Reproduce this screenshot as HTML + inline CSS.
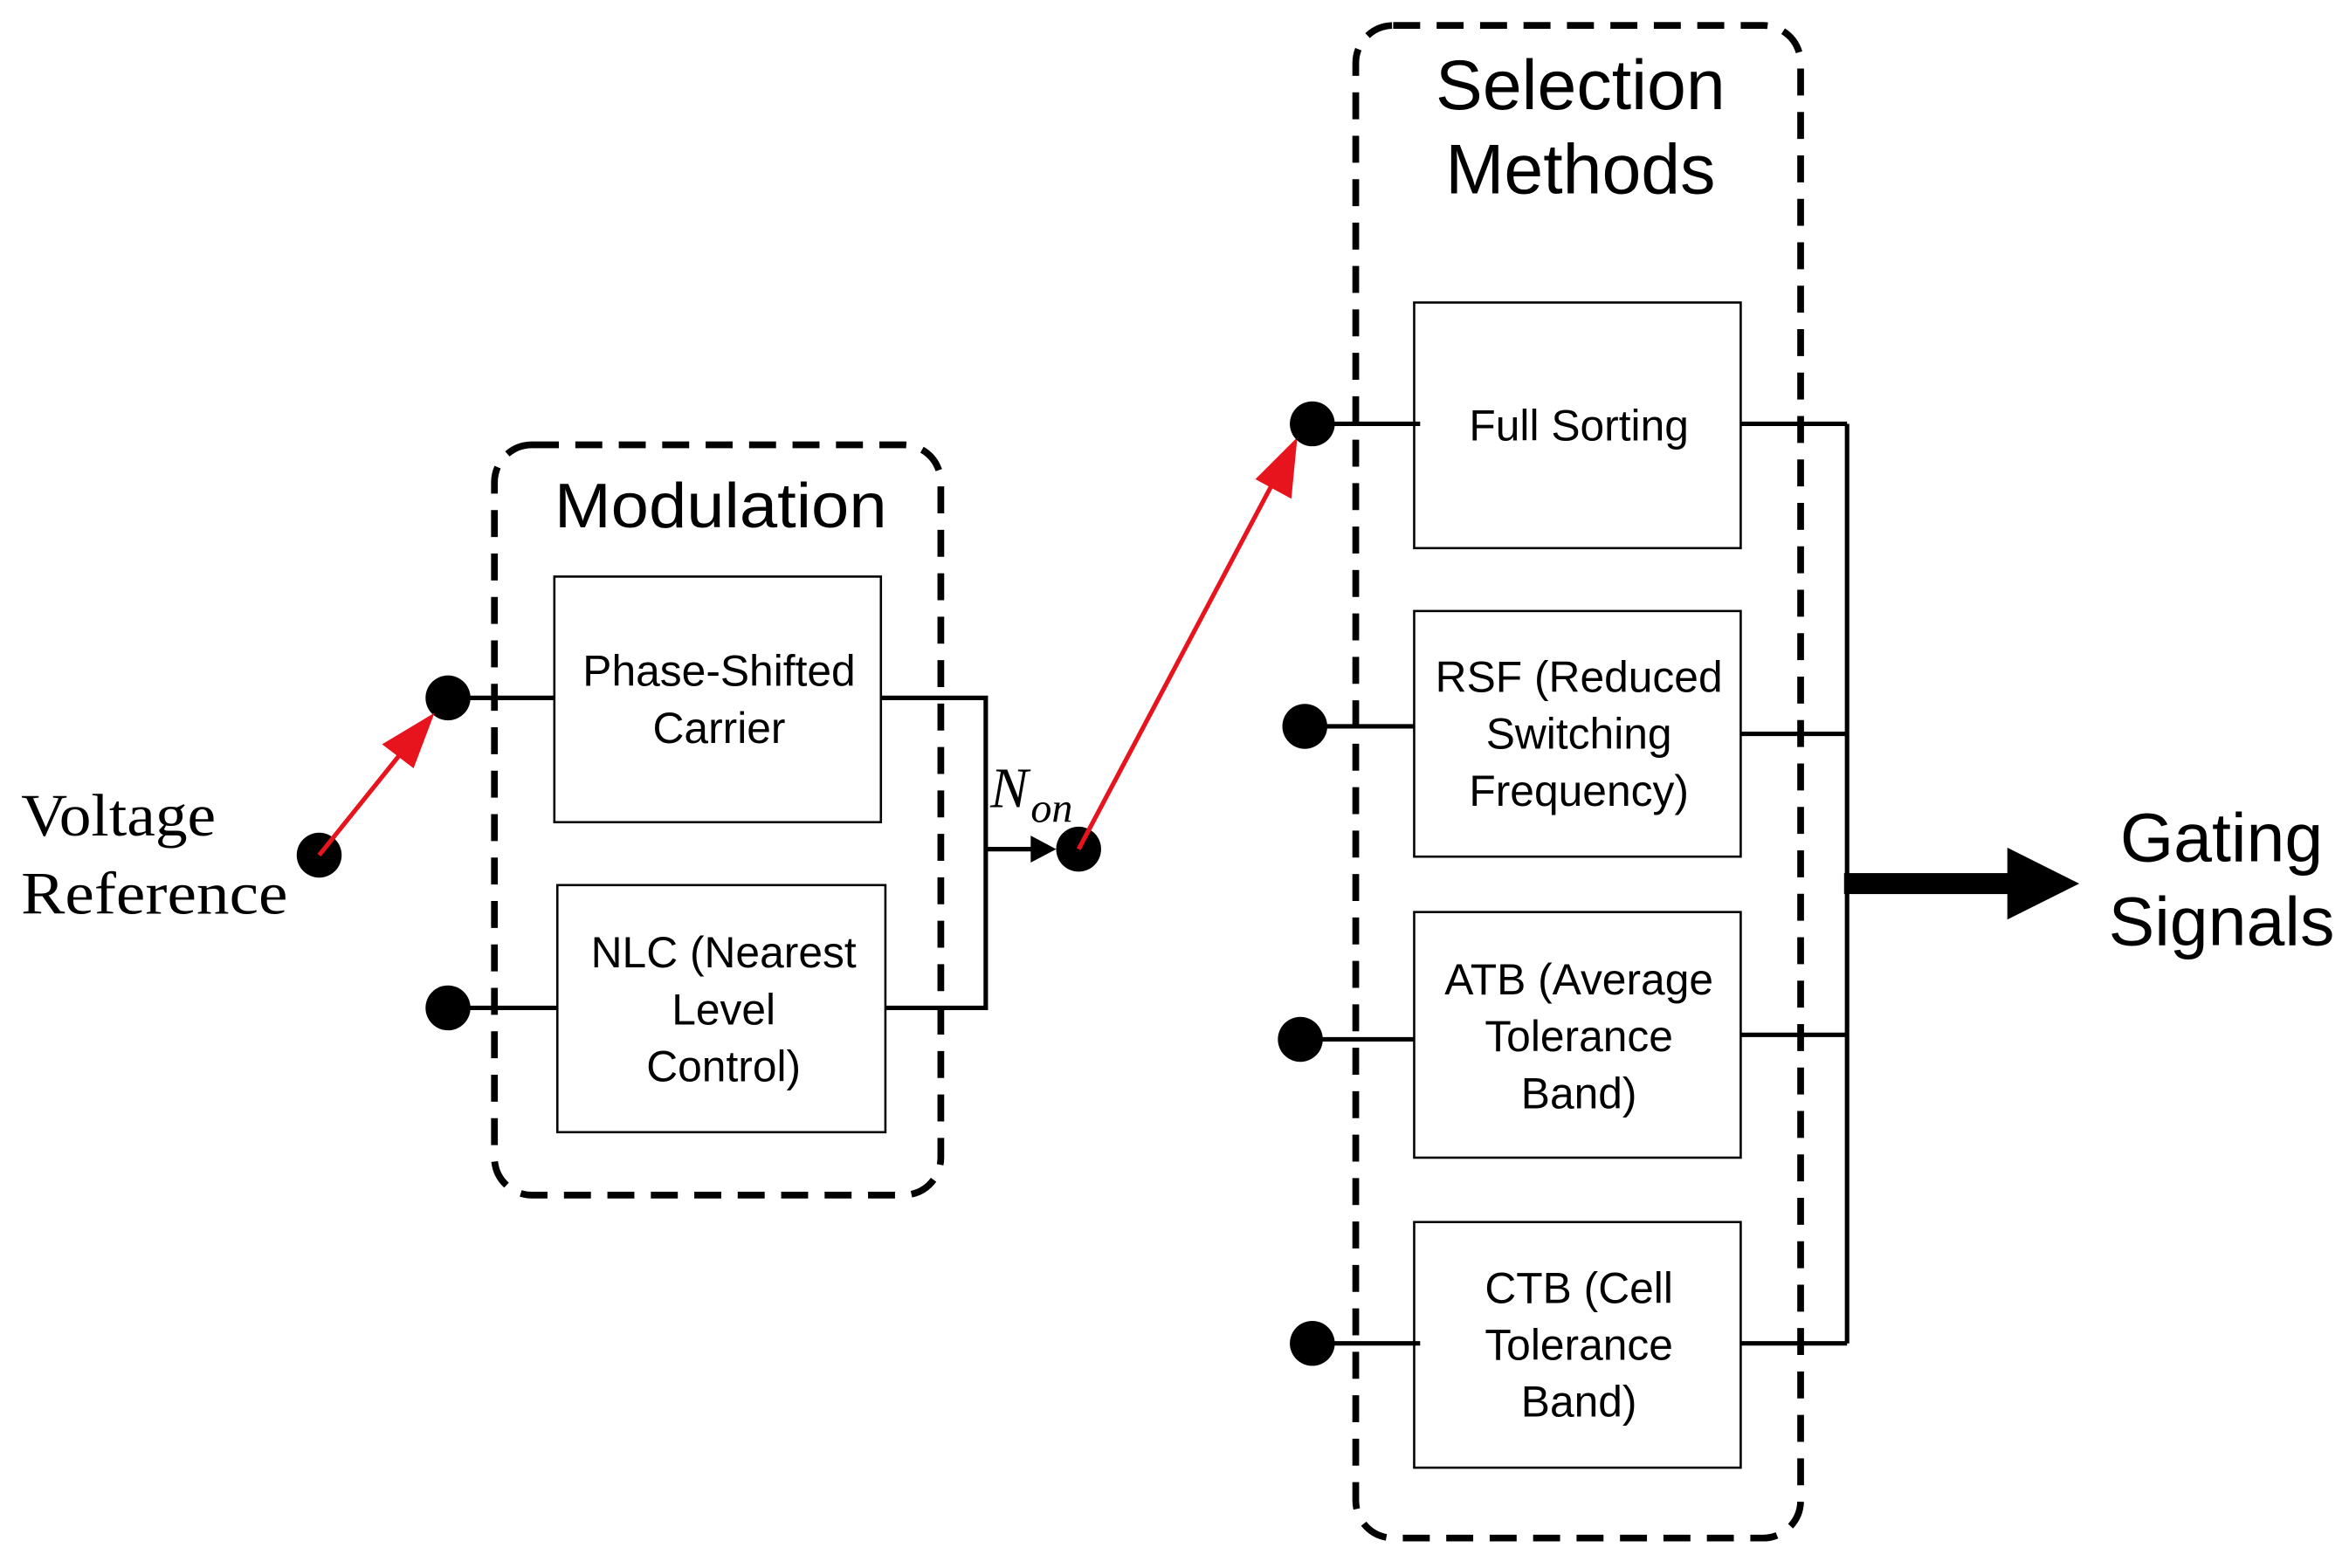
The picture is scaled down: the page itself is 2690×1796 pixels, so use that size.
<!DOCTYPE html>
<html><head><meta charset="utf-8"><style>
html,body{margin:0;padding:0;background:#fff;}
svg{display:block;}
.s{font-family:"Liberation Sans","DejaVu Sans",sans-serif;fill:#000;text-anchor:middle;}
.r{font-family:"Liberation Serif",serif;fill:#000;}
</style></head><body>
<svg width="2690" height="1796" viewBox="0 0 1568 1047" xmlns="http://www.w3.org/2000/svg">
<rect width="1568" height="1047" fill="#fff"/>
<rect x="330" y="297" width="298" height="501" rx="25" fill="none" stroke="#000" stroke-width="4.5" stroke-dasharray="18,11"/>
<text class="s" x="481" y="352" font-size="42" textLength="222" lengthAdjust="spacingAndGlyphs">Modulation</text>
<rect x="370" y="385" width="218" height="164" fill="none" stroke="#000" stroke-width="1.5"/>
<text class="s" x="480" y="458" font-size="29">Phase-Shifted</text>
<text class="s" x="480" y="496" font-size="29">Carrier</text>
<rect x="372" y="591" width="219" height="165" fill="none" stroke="#000" stroke-width="1.5"/>
<text class="s" x="483" y="646" font-size="29">NLC (Nearest</text>
<text class="s" x="483" y="684" font-size="29">Level</text>
<text class="s" x="483" y="722" font-size="29">Control)</text>
<g stroke="#000" stroke-width="3" fill="none">
<line x1="299" y1="466" x2="370" y2="466"/>
<line x1="299" y1="673" x2="372" y2="673"/>
<polyline points="588,466 658,466 658,673 591,673"/>
<line x1="658" y1="567" x2="690" y2="567"/>
</g>
<path d="M705,567 L688,558 L688,576 z" fill="#000"/>
<circle cx="299" cy="466" r="15" fill="#000"/>
<circle cx="299" cy="673" r="15" fill="#000"/>
<circle cx="213" cy="571" r="15" fill="#000"/>
<circle cx="720" cy="567" r="15" fill="#000"/>
<text class="r" x="661" y="539" font-size="38" font-style="italic">N</text>
<text class="r" x="688" y="549" font-size="28" font-style="italic">on</text>
<text class="r" x="14" y="558" font-size="40" textLength="130" lengthAdjust="spacingAndGlyphs">Voltage</text>
<text class="r" x="14" y="610" font-size="40" textLength="178" lengthAdjust="spacingAndGlyphs">Reference</text>
<line x1="213" y1="571" x2="266" y2="505" stroke="#e8141d" stroke-width="3"/>
<path d="M290,476 L276,513 L255,497 z" fill="#e8141d"/>
<line x1="720" y1="567" x2="851" y2="320" stroke="#e8141d" stroke-width="3"/>
<path d="M866,292 L862,333 L838,320 z" fill="#e8141d"/>
<rect x="905" y="17" width="297" height="1010" rx="25" fill="none" stroke="#000" stroke-width="4.5" stroke-dasharray="18,11"/>
<text class="s" x="1055" y="73" font-size="47">Selection</text>
<text class="s" x="1055" y="129" font-size="47">Methods</text>
<g fill="none" stroke="#000" stroke-width="1.5">
<rect x="944" y="202" width="218" height="164"/>
<rect x="944" y="408" width="218" height="164"/>
<rect x="944" y="609" width="218" height="164"/>
<rect x="944" y="816" width="218" height="164"/>
</g>
<text class="s" x="1054" y="294" font-size="29">Full Sorting</text>
<text class="s" x="1054" y="462" font-size="29">RSF (Reduced</text>
<text class="s" x="1054" y="500" font-size="29">Switching</text>
<text class="s" x="1054" y="538" font-size="29">Frequency)</text>
<text class="s" x="1054" y="664" font-size="29">ATB (Average</text>
<text class="s" x="1054" y="702" font-size="29">Tolerance</text>
<text class="s" x="1054" y="740" font-size="29">Band)</text>
<text class="s" x="1054" y="870" font-size="29">CTB (Cell</text>
<text class="s" x="1054" y="908" font-size="29">Tolerance</text>
<text class="s" x="1054" y="946" font-size="29">Band)</text>
<g stroke="#000" stroke-width="3" fill="none">
<line x1="876" y1="283" x2="948" y2="283"/>
<line x1="871" y1="485" x2="944" y2="485"/>
<line x1="868" y1="694" x2="944" y2="694"/>
<line x1="876" y1="897" x2="948" y2="897"/>
<line x1="1162" y1="283" x2="1233" y2="283"/>
<line x1="1162" y1="490" x2="1233" y2="490"/>
<line x1="1162" y1="691" x2="1233" y2="691"/>
<line x1="1162" y1="897" x2="1233" y2="897"/>
<line x1="1233" y1="283" x2="1233" y2="897"/>
</g>
<circle cx="876" cy="283" r="15" fill="#000"/>
<circle cx="871" cy="485" r="15" fill="#000"/>
<circle cx="868" cy="694" r="15" fill="#000"/>
<circle cx="876" cy="897" r="15" fill="#000"/>
<rect x="1231" y="583" width="110" height="14" fill="#000"/>
<path d="M1340,566 L1388,590 L1340,614 z" fill="#000"/>
<text class="s" x="1483" y="575" font-size="46">Gating</text>
<text class="s" x="1483" y="631" font-size="46">Signals</text>
</svg>
</body></html>
